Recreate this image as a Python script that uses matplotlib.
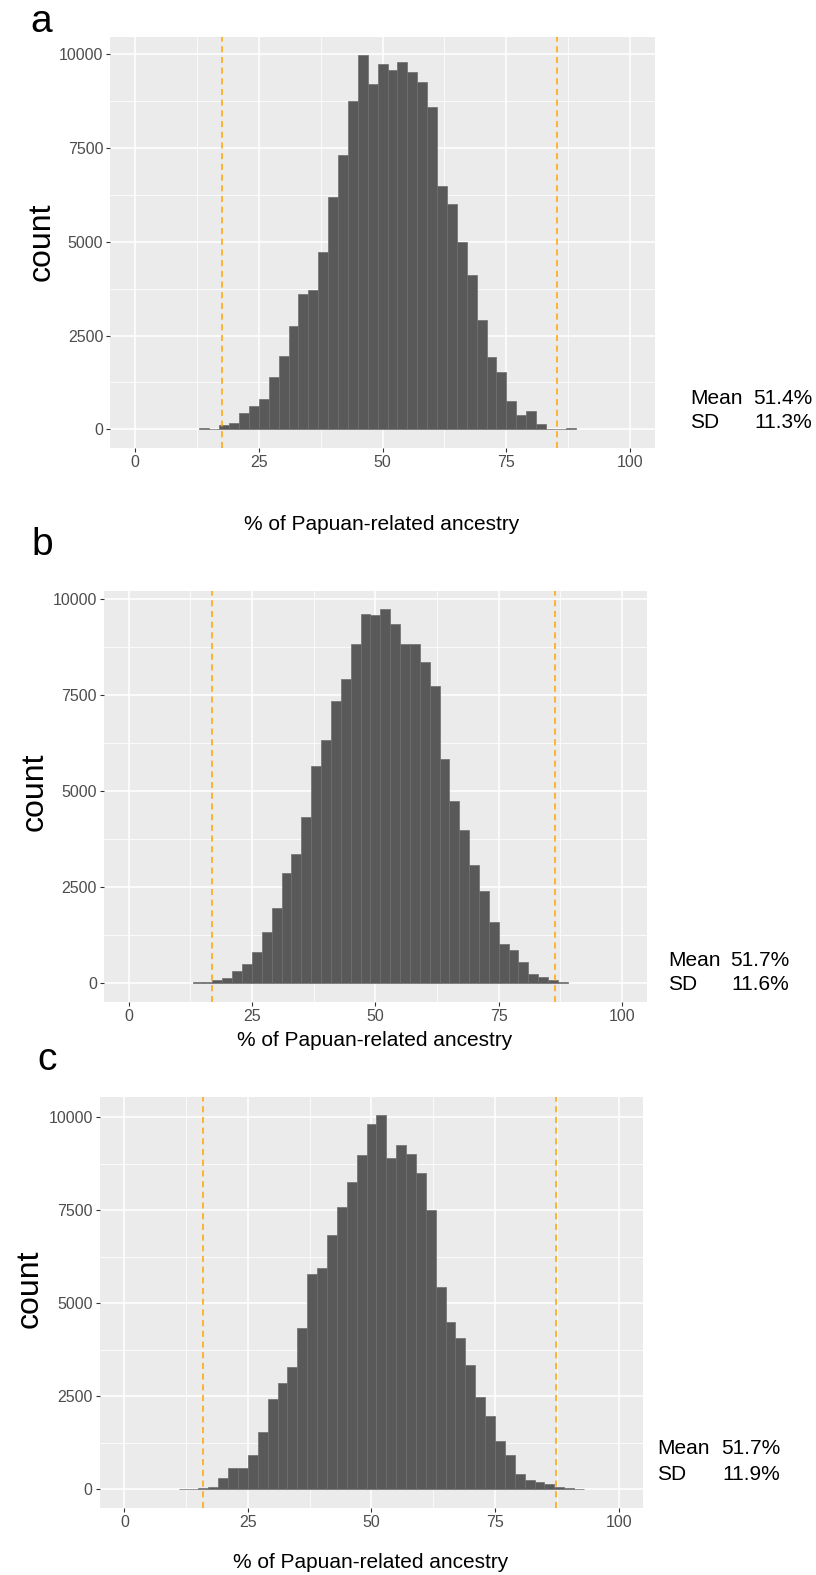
import numpy as np
import matplotlib
matplotlib.use('Agg')
import matplotlib.pyplot as plt
from matplotlib.ticker import MultipleLocator

plt.rcParams['font.family'] = ['Liberation Sans', 'DejaVu Sans']

# histogram counts, bin width 2 (% of Papuan-related ancestry)
start_a = 13
counts_a = [36, 18, 125, 160, 427, 632, 801, 1406, 1966, 2749, 3621, 3719, 4742,
            6192, 7313, 8763, 9973, 9208, 9751, 9573, 9804, 9529, 9261, 8594,
            6495, 6014, 5009, 4119, 2927, 1922, 1530, 765, 374, 480, 133, 18, 9, 36]
start_b = 13
counts_b = [20, 30, 78, 139, 304, 503, 816, 1337, 1944, 2856, 3351, 4314, 5660,
            6336, 7335, 7916, 8819, 9609, 9574, 9730, 9357, 8819, 8836, 8359,
            7734, 5833, 4748, 3993, 3064, 2404, 1588, 1016, 851, 547, 226, 165, 69, 17]
start_c = 11
counts_c = [9, 18, 27, 54, 296, 565, 565, 923, 1550, 2419, 2858, 3297, 4328, 5780,
            5941, 6837, 7590, 8262, 8987, 9803, 10045, 8907, 9238, 8996, 8494,
            7500, 5439, 4507, 4059, 3342, 2482, 1962, 1290, 932, 403, 260, 192,
            138, 72, 30, 12]
binwidth = 2

means = [51.4, 51.7, 51.7]
sds = [11.3, 11.6, 11.9]
panel_letters = ['a', 'b', 'c']

W, H = 816, 1575
fig = plt.figure(figsize=(W / 100, H / 100), dpi=100)


def px_axes(left, right, top, bottom):
    return fig.add_axes([left / W, 1 - bottom / H, (right - left) / W, (bottom - top) / H])


def ftext(x, y, s, **kw):
    fig.text(x / W, 1 - y / H, s, **kw)


def panel(ax, start, counts, mean, sd):
    counts = np.array(counts)
    edges = start + binwidth * np.arange(len(counts))
    ax.set_facecolor('#EBEBEB')
    ax.bar(edges, counts, width=binwidth, align='edge', color='#595959',
           edgecolor='#6E6E6E', linewidth=0.5, zorder=3)
    for v in (mean - 3 * sd, mean + 3 * sd):
        ax.axvline(v, color='#FFA500', linestyle=(0, (4, 3)), linewidth=1.1, zorder=4)
    top = counts.max()
    ax.set_xlim(-5, 105)
    ax.set_ylim(-0.05 * top, 1.05 * top)
    ax.xaxis.set_major_locator(MultipleLocator(25))
    ax.xaxis.set_minor_locator(MultipleLocator(12.5))
    ax.yaxis.set_major_locator(MultipleLocator(2500))
    ax.yaxis.set_minor_locator(MultipleLocator(1250))
    ax.grid(which='major', color='white', linewidth=1.1, zorder=0)
    ax.grid(which='minor', color='white', linewidth=0.55, zorder=0)
    ax.set_axisbelow(True)
    for s in ax.spines.values():
        s.set_visible(False)
    ax.tick_params(which='major', length=3, width=0.8, color='#333333',
                   labelsize=11.5, labelcolor='#4D4D4D', pad=2)
    ax.tick_params(which='minor', length=0)


layout = [
    # left, right, top, bottom of each panel in pixels
    (110.3, 654.9, 36.7, 448.0),
    (103.9, 646.8, 590.7, 1001.7),
    (99.6, 643.3, 1096.7, 1508.0),
]
data = [(start_a, counts_a), (start_b, counts_b), (start_c, counts_c)]

for (l, r, t, b), (st, cnt), m, s in zip(layout, data, means, sds):
    ax = px_axes(l, r, t, b)
    panel(ax, st, cnt, m, s)

# panel letters
ftext(41, 22, 'a', fontsize=28, ha='center', va='center')
ftext(42, 545, 'b', fontsize=28, ha='center', va='center')
ftext(47, 1060, 'c', fontsize=28, ha='center', va='center')

# y titles
ftext(42, 242, 'count', fontsize=23, rotation=90, ha='center', va='center')
ftext(35, 792, 'count', fontsize=23, rotation=90, ha='center', va='center')
ftext(30, 1289, 'count', fontsize=23, rotation=90, ha='center', va='center')

# x titles
xt = '% of Papuan-related ancestry'
ftext(382, 524, xt, fontsize=15, ha='center', va='center')
ftext(375, 1040, xt, fontsize=15, ha='center', va='center')
ftext(371, 1563, xt, fontsize=15, ha='center', va='center')

# mean / sd annotations
stat_pos = [(690, 812, 398, 423), (668, 789, 961, 985), (657, 780, 1449, 1475)]
for (xl, xr, ym, ys), m, s in zip(stat_pos, means, sds):
    ftext(xl, ym, 'Mean', fontsize=15, ha='left', va='center')
    ftext(xr, ym, f'{m}%', fontsize=15, ha='right', va='center')
    ftext(xl, ys, 'SD', fontsize=15, ha='left', va='center')
    ftext(xr, ys, f'{s}%', fontsize=15, ha='right', va='center')

fig.savefig('out.png', dpi=100)
